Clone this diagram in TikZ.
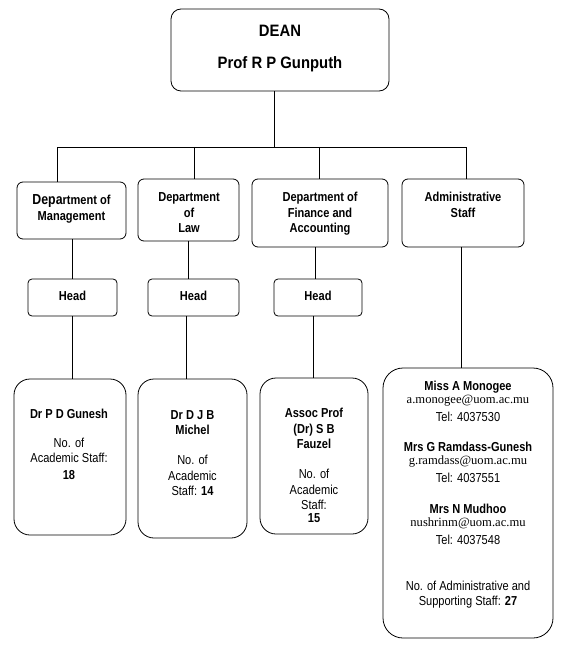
\documentclass[tikz,border=0pt]{standalone}
\usepackage{fontspec}
\setmainfont{Liberation Sans}[FakeStretch=0.85]
\newfontfamily\deanfont{Liberation Sans}[FakeStretch=0.9]
\newfontfamily\mailfont{Liberation Serif}
\begin{document}
\begin{tikzpicture}[x=1pt,y=-1pt,
  box/.style={draw, line width=0.8pt, rounded corners=#1, inner sep=0pt},
  box/.default=6pt,
  txt/.style={align=center, anchor=base, inner sep=0pt, font=\fontsize{13}{15.5}\selectfont},
  conn/.style={line width=0.8pt}]
\useasboundingbox (0,0) rectangle (565,660);
\fill[white] (0,0) rectangle (565,660);

% boxes
\node[box=10pt, minimum width=218pt, minimum height=82pt] (dean) at (280,50) {};
\node[box, minimum width=109pt, minimum height=57pt] (mgmt) at (71.5,210.5) {};
\node[box, minimum width=101pt, minimum height=62pt] (law) at (188.5,210) {};
\node[box, minimum width=136pt, minimum height=68pt] (fin) at (320,213) {};
\node[box, minimum width=122pt, minimum height=68pt] (admin) at (463,213) {};
\node[box=4pt, minimum width=89pt, minimum height=37pt] (head1) at (72.5,297.5) {};
\node[box=4pt, minimum width=91pt, minimum height=37pt] (head2) at (193.5,297.5) {};
\node[box=4pt, minimum width=88pt, minimum height=37pt] (head3) at (318,297.5) {};
\node[box=16pt, minimum width=112pt, minimum height=156pt] (p1) at (70,457) {};
\node[box=16pt, minimum width=109pt, minimum height=159pt] (p2) at (192.5,458.5) {};
\node[box=16pt, minimum width=108pt, minimum height=156pt] (p3) at (314,456) {};
\node[box=20pt, minimum width=170pt, minimum height=270pt] (adm) at (468,503) {};

% connector coordinates
\coordinate (bus) at (274,147);
\coordinate (bM) at (57,147);
\coordinate (bL) at (194,147);
\coordinate (bF) at (319,147);
\coordinate (bA) at (466,147);
\coordinate (xM) at (72,0);
\coordinate (xL) at (188,0);
\coordinate (xL2) at (186,0);
\coordinate (xF) at (315,0);
\coordinate (xF2) at (313,0);
\coordinate (xA) at (461,0);

% connectors
\draw[conn] (dean.south -| bus) -- (bus);
\draw[conn] (mgmt.north -| bM) |- (bA) -- (admin.north -| bA);
\draw[conn] (bL) -- (law.north -| bL);
\draw[conn] (bF) -- (fin.north -| bF);
\draw[conn] (mgmt.south -| xM) -- (head1.north -| xM);
\draw[conn] (head1.south -| xM) -- (p1.north -| xM);
\draw[conn] (law.south -| xL) -- (head2.north -| xL);
\draw[conn] (head2.south -| xL2) -- (p2.north -| xL2);
\draw[conn] (fin.south -| xF) -- (head3.north -| xF);
\draw[conn] (head3.south -| xF2) -- (p3.north -| xF2);
\draw[conn] (admin.south -| xA) -- (adm.north -| xA);

% texts (anchor base = baseline of the last line)
\node[txt, font=\deanfont\fontsize{16.5}{32.5}\selectfont\bfseries] (deant) at (280,69) {DEAN\\Prof R P Gunputh};
\node[txt, font=\fontsize{13}{16}\selectfont\bfseries] (mgmtt) at (71.5,220.5) {{\fontsize{14.5}{16}\selectfont Depa}rtment of\\Management};
\node[txt, font=\fontsize{13}{15.5}\selectfont\bfseries] (lawt) at (189,232.5) {Department\\of\\Law};
\node[txt, font=\fontsize{13}{15.5}\selectfont\bfseries] (fint) at (320,232.5) {Department of\\Finance and\\Accounting};
\node[txt, font=\fontsize{13}{15.5}\selectfont\bfseries] (admint) at (463,217) {Administrative\\Staff};
\node[txt, font=\fontsize{13}{15.5}\selectfont\bfseries] (h1t) at (72.5,300) {Head};
\node[txt, font=\fontsize{13}{15.5}\selectfont\bfseries] (h2t) at (193.5,300) {Head};
\node[txt, font=\fontsize{13}{15.5}\selectfont\bfseries] (h3t) at (318,300) {Head};

\node[txt] (p1t) at (69,479.5) {\textbf{Dr P D Gunesh}\\[13.5pt]No. of\\Academic Staff:\\[1.5pt]\textbf{18}};
\node[txt] (p2t) at (192.5,495.5) {\textbf{Dr D J B}\\\textbf{Michel}\\[14.5pt]No. of\\Academic\\Staff: \textbf{14}};
\node[txt] (p3t) at (314,522.5) {\textbf{Assoc Prof}\\\textbf{(Dr) S B}\\\textbf{Fauzel}\\[14.5pt]No. of\\Academic\\Staff:\\[-2.5pt]\textbf{15}};

\node[txt, font=\fontsize{13}{15}\selectfont] (admt) at (468,605.5) {%
\textbf{Miss A Monogee}\\[-1.5pt]{\mailfont\fontsize{12.6}{15}\selectfont a.monogee@uom.ac.mu}\\[2.5pt]Tel: 4037530\\[15pt]%
\textbf{Mrs G Ramdass-Gunesh}\\[-1.5pt]{\mailfont\fontsize{12.6}{15}\selectfont g.ramdass@uom.ac.mu}\\[2.5pt]Tel: 4037551\\[16pt]%
\textbf{Mrs N Mudhoo}\\[-1.5pt]{\mailfont\fontsize{12.6}{15}\selectfont nushrinm@uom.ac.mu}\\[2.5pt]Tel: 4037548\\[31.5pt]%
No. of Administrative and\\Supporting Staff: \textbf{27}};
\end{tikzpicture}
\end{document}
